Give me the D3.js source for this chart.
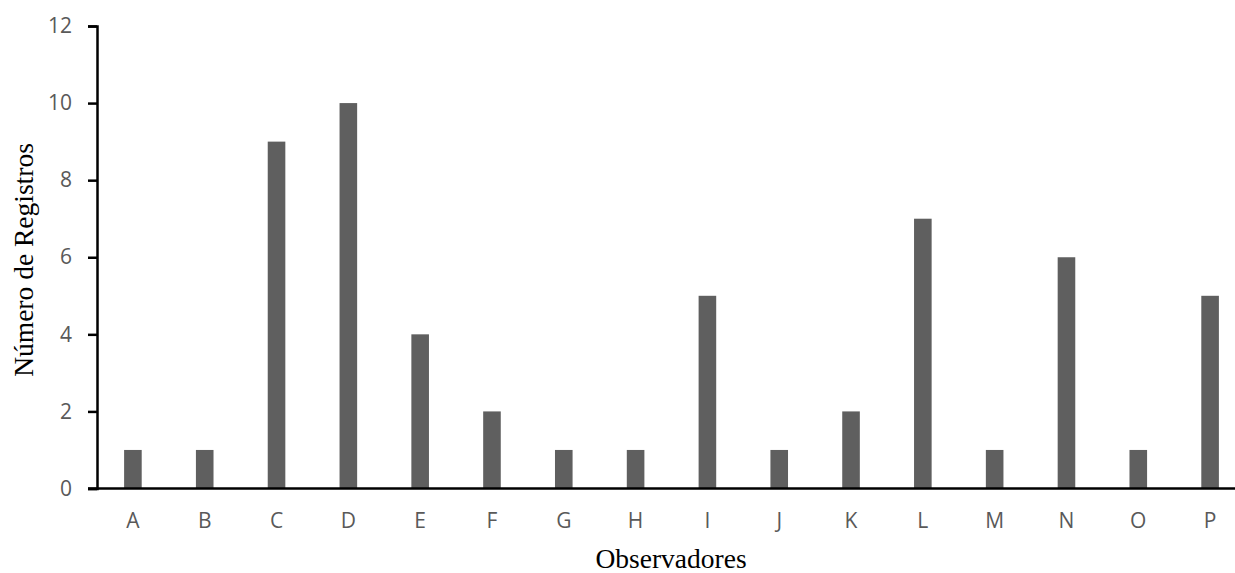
<!DOCTYPE html>
<html>
<head>
<meta charset="utf-8">
<script src="https://cdn.jsdelivr.net/npm/d3@7"></script>
<style>
  body { margin: 0; background: #fff; }
  .tick text { fill: #595959; font-family: "Open Sans", "Liberation Sans", sans-serif; font-size: 21px; }
  .axis-title { font-family: "Liberation Serif", "Times New Roman", serif; font-size: 27.5px; fill: #000; }
</style>
</head>
<body>
<div id="chart1"></div>
<script>
var observadores = ["A","B","C","D","E","F","G","H","I","J","K","L","M","N","O","P"];
var registros = [1,1,9,10,4,2,1,1,5,1,2,7,1,6,1,5];
var yTicks = [0,2,4,6,8,10,12];

var w = 1235;
var h = 573;

var svg = d3.select("#chart1")
    .append("svg")
    .attr("width", w)
    .attr("height", h);

var xScale = d3.scaleBand()
    .domain(observadores)
    .range([97, 1246])
    .paddingInner(0.755)
    .paddingOuter(0.3775);

var yScale = d3.scaleLinear()
    .domain([0, 12])
    .range([488.5, 26]);

// bars
svg.selectAll("rect.bar")
    .data(observadores)
    .enter()
    .append("rect")
    .attr("class", "bar")
    .attr("x", function(d) { return xScale(d); })
    .attr("width", xScale.bandwidth())
    .attr("y", function(d, i) { return yScale(registros[i]); })
    .attr("height", function(d, i) { return yScale(0) - yScale(registros[i]); })
    .attr("fill", "#5f5f5f");

// y axis
var yAxis = svg.append("g")
    .attr("transform", "translate(97,0)")
    .call(d3.axisLeft(yScale).tickValues(yTicks).tickSize(9).tickPadding(16));
yAxis.select(".domain").attr("stroke", "#000").attr("stroke-width", 2.5);
yAxis.selectAll(".tick line").attr("stroke", "#000").attr("stroke-width", 2.5);

// x axis
var xAxis = svg.append("g")
    .attr("transform", "translate(0,488.5)")
    .call(d3.axisBottom(xScale).tickSize(0).tickPadding(25));
xAxis.select(".domain").remove();
xAxis.append("line")
    .attr("x1", 88)
    .attr("x2", w)
    .attr("stroke", "#000")
    .attr("stroke-width", 2.5);

// titles
svg.append("text")
    .attr("class", "axis-title")
    .attr("x", 671)
    .attr("y", 568)
    .attr("text-anchor", "middle")
    .text("Observadores");

svg.append("text")
    .attr("class", "axis-title")
    .attr("transform", "rotate(-90)")
    .attr("x", -260)
    .attr("y", 33)
    .attr("text-anchor", "middle")
    .text("Número de Registros");
</script>
</body>
</html>
